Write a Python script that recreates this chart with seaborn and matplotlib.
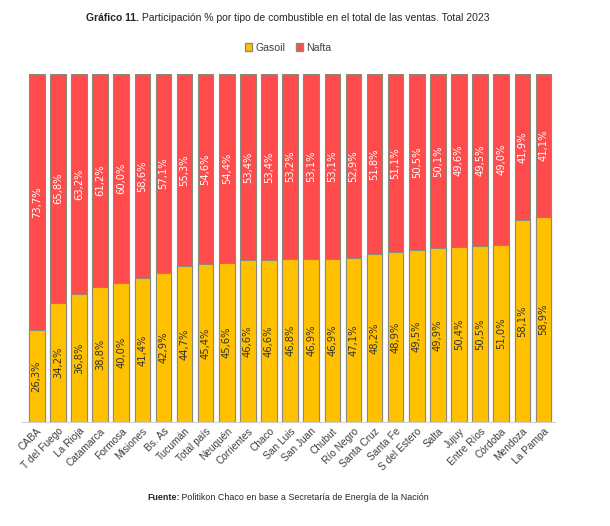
import matplotlib
matplotlib.use("Agg")
import matplotlib.pyplot as plt
import seaborn as sns
import pandas as pd
from matplotlib.patches import Patch

sns.set_style("white")
plt.rcParams["font.family"] = ["Liberation Sans Narrow", "Liberation Sans", "DejaVu Sans"]

# Datos: participación % por tipo de combustible, 2023
regiones = ["CABA", "T del Fuego", "La Rioja", "Catamarca", "Formosa", "Misiones",
            "Bs. As", "Tucumán", "Total país", "Neuquén", "Corrientes", "Chaco",
            "San Luis", "San Juan", "Chubut", "Río Negro", "Santa Cruz", "Santa Fe",
            "S del Estero", "Salta", "Jujuy", "Entre Ríos", "Córdoba", "Mendoza",
            "La Pampa"]
gasoil = [26.3, 34.2, 36.8, 38.8, 40.0, 41.4, 42.9, 44.7, 45.4, 45.6, 46.6, 46.6,
          46.8, 46.9, 46.9, 47.1, 48.2, 48.9, 49.5, 49.9, 50.4, 50.5, 51.0, 58.1, 58.9]
nafta = [73.7, 65.8, 63.2, 61.2, 60.0, 58.6, 57.1, 55.3, 54.6, 54.4, 53.4, 53.4,
         53.2, 53.1, 53.1, 52.9, 51.8, 51.1, 50.5, 50.1, 49.6, 49.5, 49.0, 41.9, 41.1]

df = pd.DataFrame({"region": regiones, "gasoil": gasoil, "nafta": nafta})
df["total"] = df["gasoil"] + df["nafta"]

c_gasoil = "#FFC000"
c_nafta = "#FF4B4B"
borde = "#8c8a78"

fig = plt.figure(figsize=(6.1, 5.26), dpi=100)
ax = fig.add_axes([0.036, 0.198, 0.874, 0.661])

sns.barplot(data=df, x="region", y="total", color=c_nafta, width=0.74,
            edgecolor=borde, linewidth=0.8, saturation=1, ax=ax)
sns.barplot(data=df, x="region", y="gasoil", color=c_gasoil, width=0.74,
            edgecolor=borde, linewidth=0.8, saturation=1, ax=ax)

cont_total, cont_gasoil = ax.containers[0], ax.containers[1]

# etiquetas de nafta centradas en el tramo rojo
for bar, g, n in zip(cont_total, df["gasoil"], df["nafta"]):
    x = bar.get_x() + bar.get_width() / 2
    ax.text(x, g + n / 2, f"{n:.1f}%".replace(".", ","), rotation=90,
            ha="center", va="center", color="white", fontsize=7.2,
            family="DejaVu Sans")
ax.bar_label(cont_gasoil, labels=[f"{v:.1f}%".replace(".", ",") for v in df["gasoil"]],
             label_type="center", rotation=90, color="#333333", fontsize=7.2,
             family="DejaVu Sans")

ax.set_xlim(-0.7, len(regiones) - 0.45)
ax.set_ylim(0, 100)
ax.set_xlabel("")
ax.set_ylabel("")
ax.set_yticks([])
for s in ["top", "right", "left"]:
    ax.spines[s].set_visible(False)
ax.spines["bottom"].set_color("#d0d0d0")
ax.tick_params(axis="x", length=0, pad=3)
plt.setp(ax.get_xticklabels(), rotation=45, ha="right", rotation_mode="anchor",
         fontsize=7.3, color="#404040")


def texto_mixto(fig, xc, y, negrita, normal, size):
    # pone "negrita" + "normal" en una línea centrada en xc (en píxeles)
    r = fig.canvas.get_renderer()
    t1 = fig.text(0, y, negrita, weight="bold", fontsize=size, va="center")
    t2 = fig.text(0, y, normal, fontsize=size, va="center")
    w1 = t1.get_window_extent(r).width
    w2 = t2.get_window_extent(r).width
    x0 = xc - (w1 + w2) / 2
    W = fig.bbox.width
    t1.set_x(x0 / W)
    t2.set_x((x0 + w1) / W)


texto_mixto(fig, 288, 0.965, "Gráfico 11.",
            " Participación % por tipo de combustible en el total de las ventas. Total 2023", 7.5)

handles = [Patch(facecolor=c_gasoil, edgecolor=borde, label="Gasoil"),
           Patch(facecolor=c_nafta, edgecolor=borde, label="Nafta")]
fig.legend(handles=handles, loc="center", bbox_to_anchor=(288 / 610, 0.909), ncol=2,
           frameon=False, fontsize=7.6, handlelength=0.7, handleheight=0.7,
           handletextpad=0.3, columnspacing=1.0, labelcolor="#404040")

texto_mixto(fig, 288, 0.055, "Fuente:",
            " Politikon Chaco en base a Secretaría de Energía de la Nación", 6.4)

fig.savefig("out.png", dpi=100)
